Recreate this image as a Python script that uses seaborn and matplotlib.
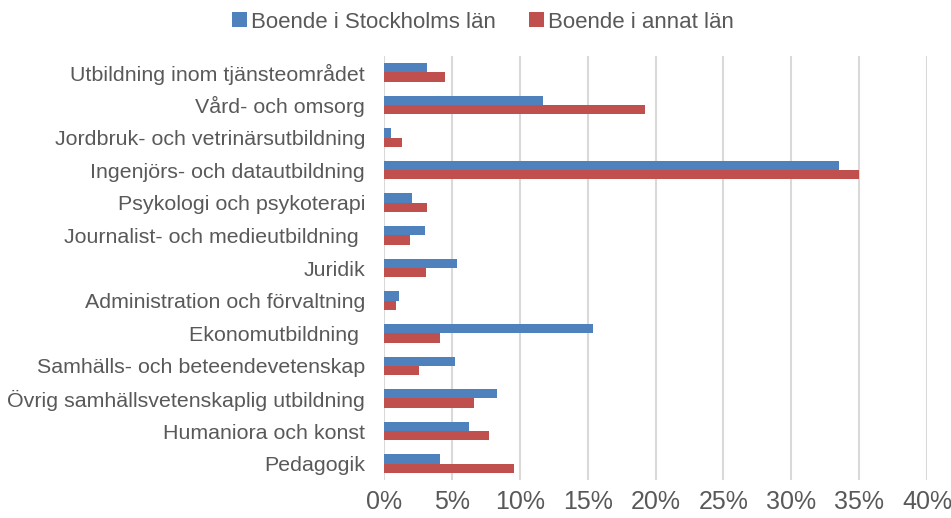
import matplotlib
matplotlib.use("Agg")
import matplotlib.pyplot as plt
import seaborn as sns
import pandas as pd
from matplotlib.ticker import FuncFormatter, MultipleLocator

categories = [
    "Utbildning inom tjänsteområdet",
    "Vård- och omsorg",
    "Jordbruk- och vetrinärsutbildning",
    "Ingenjörs- och datautbildning",
    "Psykologi och psykoterapi",
    "Journalist- och medieutbildning ",
    "Juridik",
    "Administration och förvaltning",
    "Ekonomutbildning ",
    "Samhälls- och beteendevetenskap",
    "Övrig samhällsvetenskaplig utbildning",
    "Humaniora och konst",
    "Pedagogik",
]
stockholm = [3.2, 11.7, 0.55, 33.5, 2.05, 3.0, 5.4, 1.1, 15.4, 5.25, 8.3, 6.25, 4.1]
annat = [4.5, 19.2, 1.3, 35.0, 3.2, 1.95, 3.1, 0.9, 4.1, 2.6, 6.6, 7.75, 9.6]
series_names = ["Boende i Stockholms län", "Boende i annat län"]
colors = ["#4F81BD", "#C0504D"]

df = pd.DataFrame({
    "kategori": categories * 2,
    "andel": [v / 100 for v in stockholm] + [v / 100 for v in annat],
    "serie": [series_names[0]] * len(categories) + [series_names[1]] * len(categories),
})

sns.set_style("white")
plt.rcParams["font.family"] = ["Liberation Sans", "DejaVu Sans"]
text_color = "#595959"

fig = plt.figure(figsize=(9.51, 5.18), dpi=100)
ax = fig.add_axes([384 / 951, 1 - 480 / 518, (927 - 384) / 951, (480 - 56) / 518])

sns.barplot(data=df, y="kategori", x="andel", hue="serie", orient="h",
            palette=colors, width=0.57, ax=ax, saturation=1, edgecolor="none",
            legend=True)

ax.set_xlim(0, 0.40)
ax.set_ylim(12.5, -0.5)
ax.xaxis.set_major_locator(MultipleLocator(0.05))
ax.xaxis.set_major_formatter(FuncFormatter(lambda v, p: f"{v*100:.0f}%"))
ax.grid(axis="x", color="#D9D9D9", linewidth=1.5)
ax.grid(axis="y", visible=False)
ax.set_axisbelow(True)
for s in ax.spines.values():
    s.set_visible(False)
ax.set_xlabel("")
ax.set_ylabel("")
ax.tick_params(axis="x", labelsize=18, colors=text_color, length=0, pad=7)
ax.tick_params(axis="y", labelsize=15.4, colors=text_color, length=0, pad=13.5)

handles, labels = ax.get_legend_handles_labels()
ax.legend_.remove()
fig.legend(handles, labels, loc="center", bbox_to_anchor=(483 / 951, 1 - 22 / 518),
           ncol=2, frameon=False, fontsize=16, labelcolor=text_color,
           handlelength=0.65, handleheight=0.65, handletextpad=0.2, columnspacing=1.5)

fig.savefig("out.png", dpi=100)
